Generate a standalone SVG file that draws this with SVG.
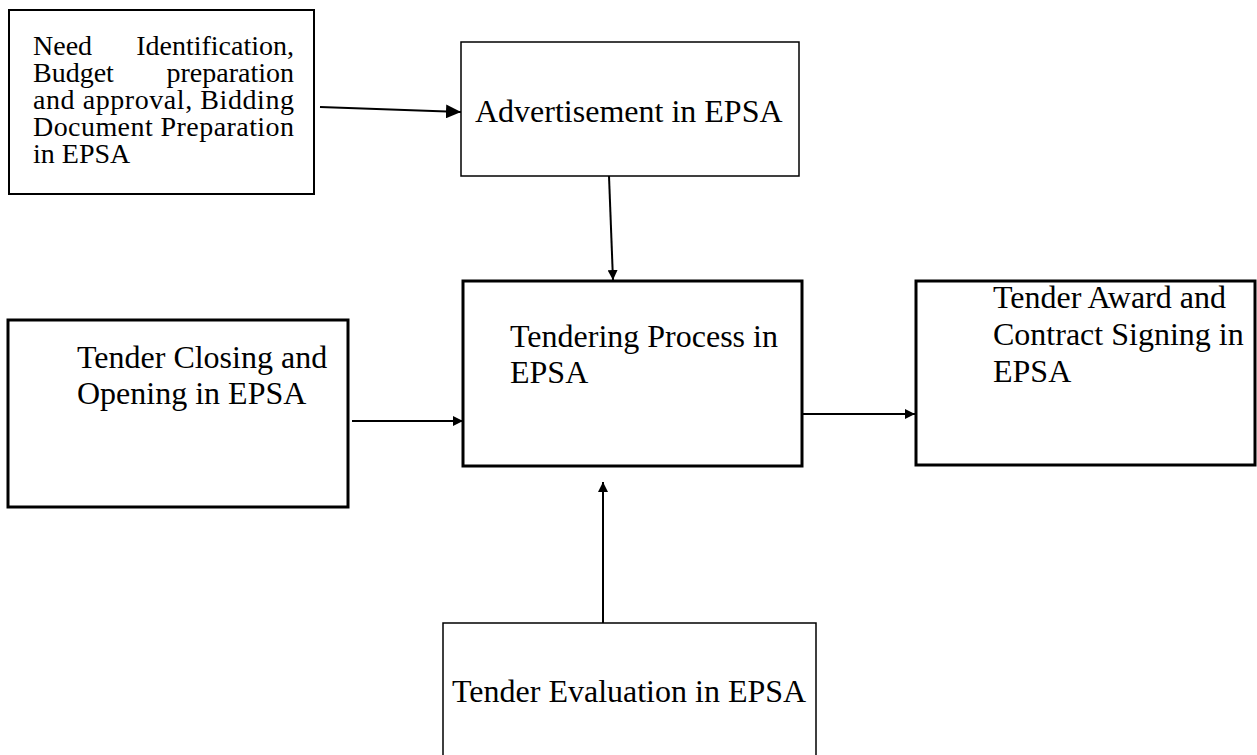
<svg xmlns="http://www.w3.org/2000/svg" width="1257" height="755" viewBox="0 0 1257 755">
<defs>
<style>
text{font-family:"Liberation Serif","Times New Roman",serif;fill:#000}
.t{font-size:32px}
.s{font-size:28px}
.box{fill:#fff;stroke:#000}
.thin{stroke-width:1.5}
.mid{stroke-width:2}
.thick{stroke-width:3}
.conn{fill:none;stroke:#000;stroke-width:2}
</style>
<marker id="big" markerUnits="userSpaceOnUse" markerWidth="16" markerHeight="14" refX="15" refY="7" orient="auto">
<path d="M0,0 L15,7 L0,14 Z" fill="#000"/>
</marker>
<marker id="sm" markerUnits="userSpaceOnUse" markerWidth="11" markerHeight="10" refX="10" refY="5" orient="auto">
<path d="M0,0 L10,5 L0,10 Z" fill="#000"/>
</marker>
</defs>
<rect width="1257" height="755" fill="#fff"/>
<g id="connectors">
<line class="conn" x1="320" y1="107" x2="461" y2="112" marker-end="url(#big)"/>
<line class="conn" x1="609" y1="176" x2="613" y2="280" marker-end="url(#sm)"/>
<line class="conn" x1="352" y1="421" x2="463" y2="421" marker-end="url(#sm)"/>
<line class="conn" x1="802" y1="414" x2="915" y2="414" marker-end="url(#sm)"/>
<line class="conn" x1="603" y1="623" x2="603" y2="482" marker-end="url(#sm)"/>
</g>
<g id="need">
<rect class="box mid" x="9" y="10" width="305" height="184"/>
<text class="s" x="33" y="55">Need</text>
<text class="s" x="294" y="55" text-anchor="end">Identification,</text>
<text class="s" x="33" y="82">Budget</text>
<text class="s" x="294" y="82" text-anchor="end">preparation</text>
<text class="s" x="33" y="109" textLength="261" lengthAdjust="spacing">and approval, Bidding</text>
<text class="s" x="33" y="136" textLength="261" lengthAdjust="spacing">Document Preparation</text>
<text class="s" x="33" y="163">in EPSA</text>
</g>
<g id="advertisement">
<rect class="box thin" x="461" y="42" width="338" height="134"/>
<text class="t" x="475" y="122">Advertisement in EPSA</text>
</g>
<g id="tendering">
<rect class="box thick" x="463" y="281" width="339" height="185"/>
<text class="t" x="510" y="347">Tendering Process in</text>
<text class="t" x="510" y="383">EPSA</text>
</g>
<g id="closing">
<rect class="box thick" x="8" y="320" width="340" height="187"/>
<text class="t" x="77" y="368">Tender Closing and</text>
<text class="t" x="77" y="404">Opening in EPSA</text>
</g>
<g id="award">
<rect class="box thick" x="916" y="281" width="339" height="184"/>
<text class="t" x="993" y="308">Tender Award and</text>
<text class="t" x="993" y="345">Contract Signing in</text>
<text class="t" x="993" y="382">EPSA</text>
</g>
<g id="evaluation">
<path class="box thin" d="M443,756 V623 H816 V756"/>
<text class="t" x="452" y="702">Tender Evaluation in EPSA</text>
</g>
</svg>
